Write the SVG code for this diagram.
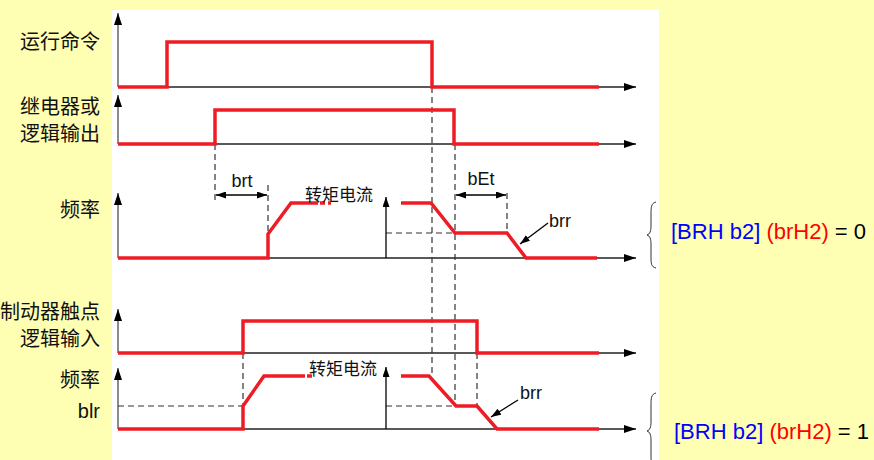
<svg xmlns="http://www.w3.org/2000/svg" width="874" height="460" viewBox="0 0 874 460">
<defs>
<marker id="ah" markerWidth="12" markerHeight="8" refX="12" refY="4" orient="auto" markerUnits="userSpaceOnUse"><path d="M0,0 L12,4 L0,8 Z" fill="#000"/></marker>
<marker id="ahs" markerWidth="10" markerHeight="7" refX="10" refY="3.5" orient="auto-start-reverse" markerUnits="userSpaceOnUse"><path d="M0,0 L10,3.5 L0,7 Z" fill="#000"/></marker>
<style>
.cn{font-family:"Noto Sans CJK SC","Noto Sans",sans-serif;font-size:20px;fill:#111}
.cs{font-family:"Noto Sans CJK SC","Noto Sans",sans-serif;font-size:17px;fill:#111}
.lt{font-family:"Liberation Sans",Arial,sans-serif;font-size:18px;fill:#111}
.rl{font-family:"Liberation Sans",Arial,sans-serif;font-size:22px}
.ax{stroke:#222;stroke-width:1.3;fill:none}
.vx{stroke:#666;stroke-width:1.5;fill:none}
.sig{stroke:#EE1C25;stroke-width:3.5;fill:none;stroke-linejoin:miter}
.ds{stroke:#333;stroke-width:1.2;stroke-dasharray:6,4;fill:none}
.dm{stroke:#000;stroke-width:1.3;fill:none}
.br{stroke:#333;stroke-width:1;fill:none}
</style>
</defs>
<rect x="0" y="0" width="874" height="460" fill="#FFFFB3"/>
<rect x="112" y="10" width="547" height="450" fill="#fff"/>

<g id="labels">
<text class="cn" x="100" y="49" text-anchor="end">运行命令</text>
<text class="cn" x="100" y="114" text-anchor="end">继电器或</text>
<text class="cn" x="100" y="141" text-anchor="end">逻辑输出</text>
<text class="cn" x="100" y="217" text-anchor="end">频率</text>
<text class="cn" x="100" y="319" text-anchor="end">制动器触点</text>
<text class="cn" x="100" y="346" text-anchor="end">逻辑输入</text>
<text class="cn" x="100" y="387" text-anchor="end">频率</text>
<text class="lt" x="100" y="418" text-anchor="end" style="font-size:20px">blr</text>
</g>

<g id="axes">
<line class="vx" x1="118" y1="87" x2="118" y2="13" marker-end="url(#ah)"/>
<line class="ax" x1="118" y1="87" x2="636" y2="87" marker-end="url(#ah)"/>
<line class="vx" x1="118" y1="144" x2="118" y2="95" marker-end="url(#ah)"/>
<line class="ax" x1="118" y1="144" x2="636" y2="144" marker-end="url(#ah)"/>
<line class="vx" x1="118" y1="258" x2="118" y2="193" marker-end="url(#ah)"/>
<line class="ax" x1="118" y1="258" x2="636" y2="258" marker-end="url(#ah)"/>
<line class="vx" x1="118" y1="353" x2="118" y2="309" marker-end="url(#ah)"/>
<line class="ax" x1="118" y1="353" x2="636" y2="353" marker-end="url(#ah)"/>
<line class="vx" x1="118" y1="429" x2="118" y2="368" marker-end="url(#ah)"/>
<line class="ax" x1="118" y1="429" x2="636" y2="429" marker-end="url(#ah)"/>
</g>

<g id="connectors">
<line class="ds" x1="215" y1="144" x2="215" y2="203"/>
<line class="ds" x1="268" y1="185" x2="268" y2="234"/>
<line class="ds" x1="432" y1="87" x2="432" y2="376"/>
<line class="ds" x1="455" y1="144" x2="455" y2="406"/>
<line class="ds" x1="507" y1="193" x2="507" y2="233"/>
<line class="ds" x1="386" y1="233" x2="455" y2="233"/>
<line class="ds" x1="243" y1="353" x2="243" y2="406"/>
<line class="ds" x1="118" y1="406" x2="243" y2="406"/>
<line class="ds" x1="477" y1="353" x2="477" y2="406"/>
<line class="ds" x1="386" y1="406" x2="456" y2="406"/>
<line class="dm" x1="216" y1="195" x2="267" y2="195" marker-start="url(#ahs)" marker-end="url(#ahs)"/>
<line class="dm" x1="456" y1="195" x2="506" y2="195" marker-start="url(#ahs)" marker-end="url(#ahs)"/>
<line class="dm" x1="386" y1="258" x2="386" y2="197" marker-end="url(#ahs)"/>
<line class="dm" x1="386" y1="429" x2="386" y2="367" marker-end="url(#ahs)"/>
<line class="dm" x1="548" y1="223" x2="520" y2="244" marker-end="url(#ahs)"/>
<line class="dm" x1="518" y1="400" x2="491" y2="417" marker-end="url(#ahs)"/>
</g>

<g id="signals">
<polyline class="sig" points="118,87 167,87 167,42 432,42 432,87 599,87"/>
<polyline class="sig" points="118,144 215,144 215,110 454,110 454,144 599,144"/>
<polyline class="sig" points="118,258 268,258 268,234 291,203 318,203"/>
<line class="sig" x1="320" y1="203" x2="325" y2="203"/>
<line class="sig" x1="328" y1="203" x2="331" y2="203"/>
<polyline class="sig" points="401,203 431,203 455,233 507,233 526,258 597,258"/>
<polyline class="sig" points="118,353 243,353 243,321 477,321 477,353 599,353"/>
<polyline class="sig" points="118,429 243,429 243,406 264,376 305,376"/>
<line class="sig" x1="307" y1="376" x2="312" y2="376"/>
<polyline class="sig" points="401,376 429,376 456,406 477,406 497,429 599,429"/>
</g>

<g id="annotations">
<text class="lt" x="242" y="187" text-anchor="middle">brt</text>
<text class="lt" x="481" y="185" text-anchor="middle">bEt</text>
<text class="lt" x="549" y="227">brr</text>
<text class="lt" x="520" y="399">brr</text>
<text class="cs" x="305" y="201">转矩电流</text>
<text class="cs" x="309" y="375">转矩电流</text>
</g>

<g id="braces">
<path class="br" d="M656,202 C651,203 651,208 651,214 L651,226 C651,231 650,234 647,235 C650,236 651,239 651,244 L651,257 C651,263 651,267 656,268"/>
<path class="br" d="M656,393 C651,394 651,399 651,405 L651,422 C651,427 650,430 647,431 C650,432 651,435 651,440 L651,455 C651,461 651,465 656,466"/>
</g>

<g id="mode-labels">
<text class="rl" x="671" y="239"><tspan fill="#0000FF">[BRH b2]</tspan> <tspan fill="#FF0000">(brH2)</tspan><tspan fill="#000"> = 0</tspan></text>
<text class="rl" x="674" y="439"><tspan fill="#0000FF">[BRH b2]</tspan> <tspan fill="#FF0000">(brH2)</tspan><tspan fill="#000"> = 1</tspan></text>
</g>
</svg>
